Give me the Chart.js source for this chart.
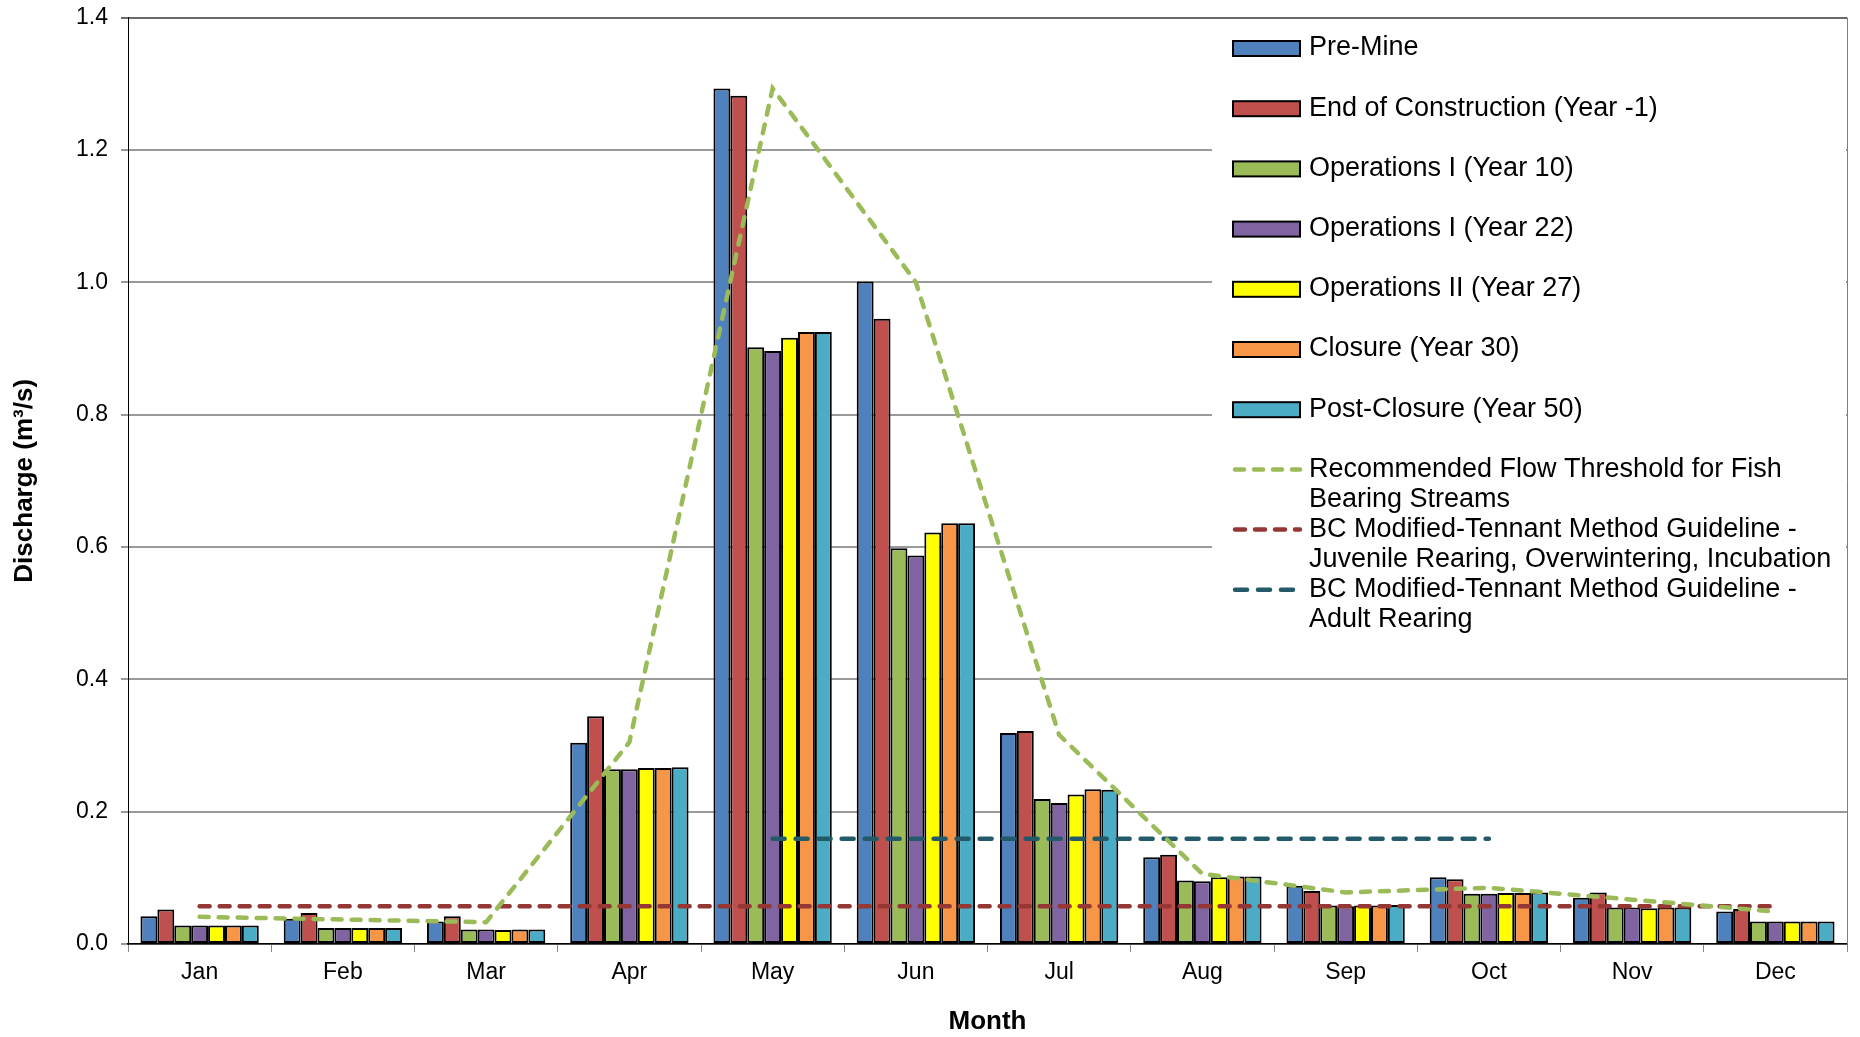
<!DOCTYPE html>
<html>
<head>
<meta charset="utf-8">
<script src="https://cdn.jsdelivr.net/npm/chart.js@4.4.0/dist/chart.umd.min.js"></script>
<style>
  html, body { margin: 0; padding: 0; background: #fff; }
  #wrap { width: 1860px; height: 1037px; }
</style>
</head>
<body>
<div id="wrap"><canvas id="discharge"></canvas></div>
<script>
// months on the x axis
var months = ['Jan', 'Feb', 'Mar', 'Apr', 'May', 'Jun', 'Jul', 'Aug', 'Sep', 'Oct', 'Nov', 'Dec'];

// y axis range (m3/s)
var yMin = 0, yMax = 1.4, yStep = 0.2;

// bar series
var preMine      = [0.042, 0.038, 0.034, 0.304, 1.293, 1.001, 0.319, 0.131, 0.088, 0.101, 0.070, 0.049];
var endOfConstr  = [0.052, 0.047, 0.042, 0.344, 1.282, 0.945, 0.322, 0.135, 0.080, 0.098, 0.078, 0.053];
var opsYear10    = [0.028, 0.024, 0.022, 0.264, 0.902, 0.598, 0.219, 0.096, 0.058, 0.076, 0.055, 0.034];
var opsYear22    = [0.028, 0.024, 0.022, 0.264, 0.896, 0.587, 0.213, 0.095, 0.057, 0.076, 0.055, 0.034];
var opsYear27    = [0.028, 0.024, 0.021, 0.266, 0.916, 0.622, 0.226, 0.101, 0.058, 0.077, 0.054, 0.034];
var closure      = [0.028, 0.024, 0.022, 0.266, 0.925, 0.636, 0.234, 0.102, 0.058, 0.077, 0.055, 0.034];
var postClosure  = [0.028, 0.024, 0.022, 0.267, 0.925, 0.636, 0.233, 0.102, 0.059, 0.078, 0.055, 0.034];

// threshold lines
var fishThreshold = [0.041, 0.037, 0.033, 0.305, 1.293, 1.000, 0.316, 0.106, 0.078, 0.085, 0.067, 0.049];
var juvenileGuide = [0.057, 0.057, 0.057, 0.057, 0.057, 0.057, 0.057, 0.057, 0.057, 0.057, 0.057, 0.057];
var adultGuide    = [null, null, null, null, 0.159, 0.159, 0.159, 0.159, 0.159, 0.159, null, null];

Chart.defaults.font.family = '"Liberation Sans", Arial, sans-serif';
Chart.defaults.color = '#000';

function barSet(label, data, color) {
    return {
        label: label,
        data: data,
        backgroundColor: color,
        borderColor: '#000',
        borderWidth: 2,
        borderSkipped: false,
        order: 1
    };
}

function lineSet(label, data, color, dash) {
    return {
        type: 'line',
        label: label,
        data: data,
        borderColor: color,
        borderWidth: 4.5,
        borderDash: dash,
        borderCapStyle: 'round',
        pointRadius: 0,
        fill: false,
        tension: 0,
        spanGaps: false,
        order: 0
    };
}

function wrapText(c, text, maxW) {
    var words = text.split(' '), lines = [], cur = '';
    words.forEach(function(w) {
        var test = cur === '' ? w : cur + ' ' + w;
        if (cur !== '' && c.measureText(test).width > maxW) {
            lines.push(cur);
            cur = w;
        } else {
            cur = test;
        }
    });
    lines.push(cur);
    return lines;
}

// legend drawn inside the plot, top right, like the Excel original
var sideLegend = {
    id: 'sideLegend',
    beforeDatasetsDraw: function(chart) {
        var c = chart.ctx, a = chart.chartArea;
        c.save();
        c.fillStyle = '#fff';
        c.fillRect(1212, a.top + 2, a.right - 1212 - 1, 650 - a.top - 2);
        c.restore();
    },
    afterDraw: function(chart) {
        var c = chart.ctx, a = chart.chartArea;
        c.save();
        // right edge of the plot area
        c.strokeStyle = '#7f7f7f';
        c.lineWidth = 1;
        c.beginPath();
        c.moveTo(a.right + 0.5, a.top);
        c.lineTo(a.right + 0.5, a.bottom);
        c.stroke();

        c.font = '27px "Liberation Sans", Arial, sans-serif';
        c.textBaseline = 'middle';
        var y = 48;
        chart.data.datasets.forEach(function(ds) {
            if (ds.type === 'line') {
                c.strokeStyle = ds.borderColor;
                c.lineWidth = ds.borderWidth;
                c.setLineDash(ds.borderDash);
                c.lineCap = 'round';
                c.beginPath();
                c.moveTo(1235, y);
                c.lineTo(1300, y);
                c.stroke();
                c.setLineDash([]);
            } else {
                c.fillStyle = ds.backgroundColor;
                c.fillRect(1233, y - 7, 67, 15);
                c.strokeStyle = '#000';
                c.lineWidth = 2;
                c.strokeRect(1233, y - 7, 67, 15);
            }
            c.fillStyle = '#000';
            wrapText(c, ds.label, 545).forEach(function(t, k) {
                c.fillText(t, 1309, y + k * 30);
            });
            y += 60.2;
        });
        c.restore();
    }
};

var ctx = document.getElementById('discharge').getContext('2d');
var chart = new Chart(ctx, {
    type: 'bar',
    data: {
        labels: months,
        datasets: [
            barSet('Pre-Mine', preMine, '#4F81BD'),
            barSet('End of Construction (Year -1)', endOfConstr, '#C0504D'),
            barSet('Operations I (Year 10)', opsYear10, '#9BBB59'),
            barSet(' Operations I (Year 22)', opsYear22, '#8064A2'),
            barSet('Operations II (Year 27)', opsYear27, '#FFFF00'),
            barSet('Closure (Year 30)', closure, '#F79646'),
            barSet('Post-Closure (Year 50)', postClosure, '#4BACC6'),
            lineSet('Recommended Flow Threshold for Fish Bearing Streams', fishThreshold, '#9BBB59', [9, 10]),
            lineSet('BC Modified-Tennant Method Guideline - Juvenile Rearing, Overwintering, Incubation', juvenileGuide, '#953735', [10, 10]),
            lineSet('BC Modified-Tennant Method Guideline - Adult Rearing', adultGuide, '#235A6A', [12, 11])
        ]
    },
    plugins: [sideLegend],
    options: {
        responsive: true,
        maintainAspectRatio: false,
        animation: false,
        layout: { padding: { top: 17, right: 13, left: 0, bottom: 0 } },
        datasets: {
            bar: { categoryPercentage: 0.826, barPercentage: 1.0 }
        },
        plugins: {
            legend: { display: false },
            tooltip: { enabled: false }
        },
        scales: {
            x: {
                offset: true,
                grid: { offset: true, drawOnChartArea: false, drawTicks: true, tickLength: 8, color: '#888', lineWidth: 1 },
                border: { display: true, color: '#000', width: 1.5 },
                ticks: { font: { size: 23 }, padding: 7, color: '#000' },
                title: { display: true, text: 'Month', font: { size: 26, weight: 'bold' }, padding: { top: 0, bottom: 0 }, color: '#000' },
                afterFit: function(scale) { scale.height = 93; }
            },
            y: {
                min: yMin,
                max: yMax,
                grid: {
                    color: function(c) { return c.tick && c.tick.value > 1.39 ? '#6a6a6a' : '#9a9a9a'; },
                    lineWidth: 2,
                    tickLength: 7
                },
                border: { display: true, color: '#000', width: 1 },
                ticks: {
                    stepSize: yStep,
                    font: { size: 23, lineHeight: 0.4 },
                    padding: 13,
                    color: '#000',
                    callback: function(v) { return Number(v).toFixed(1); }
                },
                title: { display: true, text: 'Discharge (m³/s)', font: { size: 26, weight: 'bold' }, padding: { top: 9, bottom: 0 }, color: '#000' },
                afterFit: function(scale) { scale.width = 128; }
            }
        }
    }
});
</script>
</body>
</html>
